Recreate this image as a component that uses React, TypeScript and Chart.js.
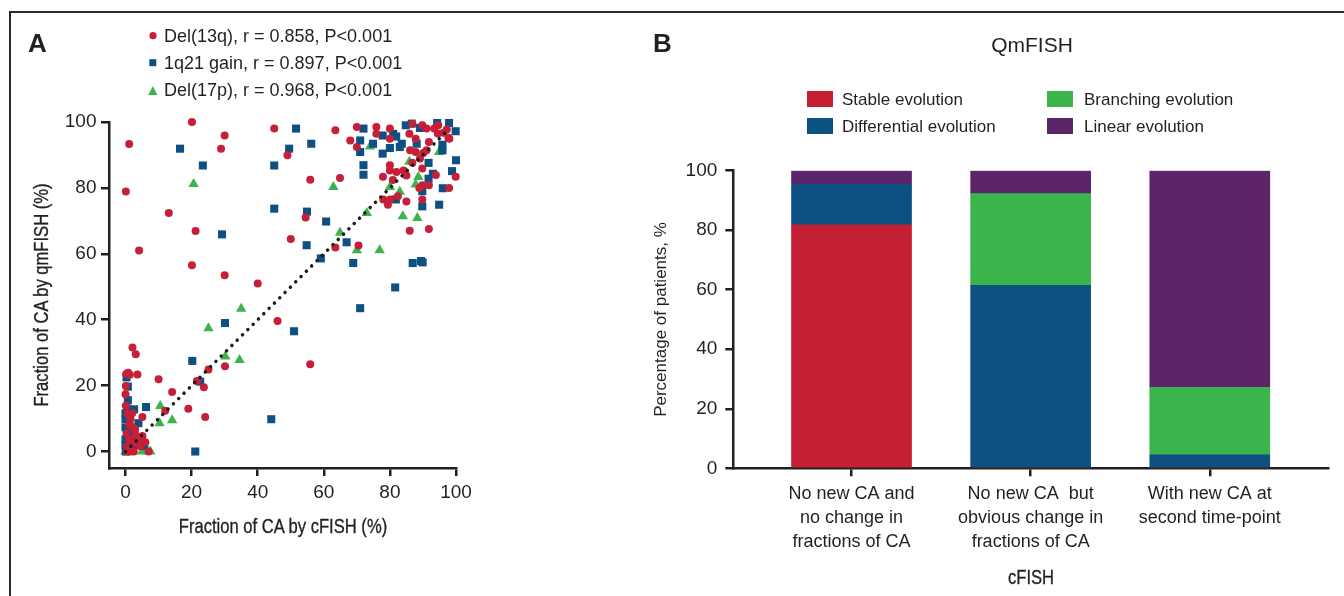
import React, { useEffect, useRef } from 'react';
import { Chart, registerables } from 'chart.js';

Chart.register(...registerables);

// ---------- Panel A: scatter data (cFISH % vs qmFISH %) ----------
const del13qX = [1.1, 20.1, 28.9, 30, 45, 49, 0.1, 13.1, 21.2, 50, 4.1, 20.1, 30, 40, 46, 2.1, 3.1, 30.1, 25.1, 21.6, 23.7, 10, 14.1, 19, 24.1, 12, 5.1, 3.6, 0.2, 0.8, 1.3, 0.1, 0, 0.1, 55.9, 54.5, 55.9, 64.9, 63.5, 70.5, 86, 91.8, 63.5,
  70, 75.9, 75.9, 80, 68, 70, 80, 86.8, 89.8, 91.1, 93.4, 94.6, 97.2, 96.2, 98, 85.9, 87.8, 91.8, 86.1, 87.8, 91.1, 90.1, 89.1, 86.8, 80, 80, 82, 84.1, 85, 89.8, 77.9, 93.9, 99.9, 80.9, 89.8, 88.9, 91.8, 97.9, 82.4, 78, 80.1, 79.4, 85, 89.8, 94.5, 97.7,
  0.6, 2, 1.1, 2, 2.9, 5.1, 3.9, 6, 4.5, 1.1, 0.6, 1.5, 2.5, 7, 0.3, 1.5, 3, 2.5, 0.5];
const del13qY = [93.3, 100, 91.9, 95.9, 98, 89.9, 78.9, 72.4, 66.9, 64.5, 61, 56.5, 53.5, 51, 39.6, 31.6, 29.5, 25.9, 24.9, 21.4, 19.5, 21.9, 18.1, 13, 10.5, 12.4, 10.5, 23.4, 23.5, 23.9, 23.3, 19.9, 17.4, 13.9, 26.5, 71, 82.5, 83, 61.9, 62.5, 67, 67.5, 97.5,
  98.5, 98.5, 96.4, 98, 94.4, 92.4, 94.9, 99.5, 99, 98, 98, 99, 97.7, 96.7, 94.9, 96.4, 94.9, 93.9, 91.4, 90.9, 91.4, 90.6, 88.9, 87.6, 86.9, 85.3, 84.8, 85.3, 83.8, 85.9, 83.4, 83.9, 83.4, 82.4, 80.8, 80, 80.8, 80, 77.5, 76.5, 76.5, 74.9, 75.9, 76.5, 96.5, 95.2,
  11.6, 11.6, 8.2, 7.5, 6.7, 4.7, 3.7, 2.8, 1.6, 3.7, 0, 0, 0, 0, 5.5, 9.8, 5, 2.5, 1.5];

const gainX = [16.5, 23.4, 45, 49.5, 51.6, 45, 29.2, 30.1, 51, 20.2, 22.6, 44.1, 21.1, 6.2, 2.6, 0.7, 0.7, 0, 0, 3.9, 0, 0, 0, 5.7, 0.1, 1.5, 0.5, 2, 1, 3, 0.3,
  56.2, 54.9, 60.7, 54.8, 66.9, 59.1, 68.9, 86.9, 89.4, 89.9, 81.6, 71,
  72, 77.8, 81, 71, 71, 74.9, 80, 77.8, 84.8, 89.1, 94.3, 97.9, 99.9, 83.6, 83, 88.1, 95.9, 95.9, 100, 91.7, 72, 72, 91.7, 93, 98.8, 89.8, 96, 81.8, 89.8, 94.9, 86.6, 81.9];
const gainY = [91.9, 86.8, 86.8, 91.9, 98, 73.7, 65.9, 39, 36.5, 27.5, 21.2, 9.8, 0, 13.5, 12.8, 15.6, 19.7, 11.6, 9.8, 8.6, 7.3, 3.7, 1.9, 1.7, 0, 5.5, 13, 3.5, 1, 2, 22.5,
  93.4, 72.8, 69.8, 62.6, 63.5, 58.6, 57.2, 57.2, 57.8, 57.4, 49.8, 43.5,
  98, 95.9, 96.4, 94.4, 90.9, 93.4, 92.1, 90.4, 99, 98.2, 99.7, 99.7, 97.2, 93.4, 92.4, 93.4, 91.4, 93.1, 88.4, 87.6, 86.9, 84, 82.8, 84.3, 85.1, 79, 79.9, 76.5, 74.4, 74.9, 99.5, 95.6];

const del17pX = [20.6, 35, 25.1, 30.2, 34.5, 10.5, 14.1, 10.3, 0, 2, 5, 7.5, 1.5, 3.5, 62.9, 64.9, 70, 76.9, 73, 83.9, 88.3, 74, 94.9, 85.9, 80, 88.6, 87.8, 83];
const del17pY = [81.2, 43.3, 37.4, 28.8, 27.8, 13.8, 9.5, 8.6, 0, 0, 0, 0, 1.5, 3, 80.3, 66.4, 61.1, 61.1, 72.4, 71.4, 70.9, 92.6, 90.9, 87.9, 80.3, 83.3, 81, 78.8];

const fitLineX = [0, 97.5];
const fitLineY = [0, 97.5];
const axisTicksA = [0, 20, 40, 60, 80, 100];

// ---------- Panel B: stacked bars ----------
const categoriesB = [
  ['No new CA and', 'no change in', 'fractions of CA'],
  ['No new CA  but', 'obvious change in', 'fractions of CA'],
  ['With new CA at', 'second time-point'],
];
const stableEvolution = [81.8, 0, 0];
const differentialEvolution = [13.6, 61.5, 4.5];
const branchingEvolution = [0, 30.8, 22.7];
const linearEvolution = [4.6, 7.7, 72.8];
const axisTicksB = [0, 20, 40, 60, 80, 100];

const FONT = "'Liberation Sans', Arial, Helvetica, sans-serif";
const INK = '#231f20';
const RED = '#c61f38';
const BLUE = '#0d5184';
const GREEN = '#3cb44b';
const BAR_RED = '#c41f33';
const BAR_BLUE = '#0d5183';
const BAR_GREEN = '#3bb44c';
const BAR_PURPLE = '#5d2569';

const pts = (xs: number[], ys: number[]) => xs.map((x, i) => ({ x, y: ys[i] }));

function T(props: { x: number; y: number; size: number; bold?: boolean; center?: boolean; children: React.ReactNode }) {
  const { x, y, size, bold, center, children } = props;
  return (
    <div
      style={{
        position: 'absolute',
        left: x,
        top: y - 0.488 * size,
        fontSize: size,
        lineHeight: `${size}px`,
        fontFamily: FONT,
        fontWeight: bold ? 700 : 400,
        whiteSpace: 'nowrap',
        color: INK,
        transform: center ? 'translateX(-50%)' : undefined,
      }}
    >
      {children}
    </div>
  );
}

// condensed axis title (centre-anchored), optionally rotated
function AxisTitle(props: { x: number; y: number; size: number; rotate?: boolean; children: React.ReactNode }) {
  const { x, y, size, rotate, children } = props;
  return (
    <div
      style={{
        position: 'absolute',
        left: x,
        top: y,
        fontSize: size,
        lineHeight: `${size}px`,
        fontFamily: FONT,
        whiteSpace: 'nowrap',
        color: INK,
        WebkitTextStroke: '0.35px ' + INK,
        transform: `translate(-50%, -50%)${rotate ? ' rotate(-90deg)' : ''} scaleX(0.79)`,
      }}
    >
      {children}
    </div>
  );
}

export default function App() {
  const aRef = useRef<HTMLCanvasElement | null>(null);
  const bRef = useRef<HTMLCanvasElement | null>(null);

  useEffect(() => {
    const axisCommon = {
      border: { display: true, color: INK, width: 2.5 },
      grid: { display: true, drawOnChartArea: false, drawTicks: true, tickLength: 8, color: INK, lineWidth: 2.5, tickColor: INK, tickWidth: 2.5, offset: false },
    };

    const chartA = new Chart(aRef.current as HTMLCanvasElement, {
      type: 'scatter',
      data: {
        datasets: [
          {
            label: 'fit',
            data: pts(fitLineX, fitLineY),
            showLine: true,
            borderColor: '#1b1b1b',
            borderWidth: 3.5,
            borderDash: [0.01, 7.5],
            borderCapStyle: 'round',
            pointRadius: 0,
            order: 0,
            clip: false,
          } as any,
          {
            label: 'Del(13q)',
            data: pts(del13qX, del13qY),
            pointStyle: 'circle',
            pointRadius: 4,
            pointBackgroundColor: RED,
            pointBorderColor: RED,
            pointBorderWidth: 0,
            order: 1,
            clip: false,
          },
          {
            label: '1q21 gain',
            data: pts(gainX, gainY),
            pointStyle: 'rect',
            pointRadius: 5.7,
            pointBackgroundColor: BLUE,
            pointBorderColor: BLUE,
            pointBorderWidth: 0,
            order: 2,
            clip: false,
          },
          {
            label: 'Del(17p)',
            data: pts(del17pX, del17pY),
            pointStyle: 'triangle',
            pointRadius: 6,
            pointBackgroundColor: GREEN,
            pointBorderColor: GREEN,
            pointBorderWidth: 0,
            order: 3,
            clip: false,
          },
        ],
      },
      options: {
        responsive: false,
        animation: false,
        devicePixelRatio: 1,
        plugins: { legend: { display: false }, tooltip: { enabled: false } },
        layout: { padding: { left: 0, top: 122, right: 24, bottom: 28 } },
        scales: {
          x: {
            type: 'linear',
            min: -5,
            max: 100,
            afterBuildTicks: (s: any) => { s.ticks = axisTicksA.map((v) => ({ value: v })); },
            afterFit: (s: any) => { s.height = 100; },
            ...axisCommon,
            ticks: { padding: 5.5, color: INK, font: { family: FONT, size: 19 }, maxRotation: 0, autoSkip: false },
          },
          y: {
            type: 'linear',
            min: -5,
            max: 100,
            afterBuildTicks: (s: any) => { s.ticks = axisTicksA.map((v) => ({ value: v })); },
            afterFit: (s: any) => { s.width = 109; },
            ...axisCommon,
            ticks: { padding: 4.5, color: INK, font: { family: FONT, size: 19 }, autoSkip: false },
          },
        },
      } as any,
    });

    const mk = (vals: number[]) => vals.map((v, i) => ({ x: i + 1, y: v }));
    const chartB = new Chart(bRef.current as HTMLCanvasElement, {
      type: 'bar',
      data: {
        datasets: [
          { label: 'Stable evolution', data: mk(stableEvolution), backgroundColor: BAR_RED, barThickness: 120, borderWidth: 0 },
          { label: 'Differential evolution', data: mk(differentialEvolution), backgroundColor: BAR_BLUE, barThickness: 120, borderWidth: 0 },
          { label: 'Branching evolution', data: mk(branchingEvolution), backgroundColor: BAR_GREEN, barThickness: 120, borderWidth: 0 },
          { label: 'Linear evolution', data: mk(linearEvolution), backgroundColor: BAR_PURPLE, barThickness: 120, borderWidth: 0 },
        ] as any,
      },
      options: {
        responsive: false,
        animation: false,
        devicePixelRatio: 1,
        plugins: { legend: { display: false }, tooltip: { enabled: false } },
        layout: { padding: { left: 0, top: 170.7, right: 16, bottom: 2.7 } },
        scales: {
          x: {
            type: 'linear',
            min: 0.34,
            max: 3.66,
            offset: false,
            stacked: true,
            afterBuildTicks: (s: any) => { s.ticks = categoriesB.map((_, i) => ({ value: i + 1 })); },
            afterFit: (s: any) => { s.height = 125; },
            ...axisCommon,
            ticks: {
              padding: 6,
              color: INK,
              font: { family: FONT, size: 18, lineHeight: 1.333 },
              maxRotation: 0,
              autoSkip: false,
              callback: (_v: any, i: number) => categoriesB[i],
            },
          },
          y: {
            type: 'linear',
            min: 0,
            max: 100,
            stacked: true,
            afterBuildTicks: (s: any) => { s.ticks = axisTicksB.map((v) => ({ value: v })); },
            afterFit: (s: any) => { s.width = 133.3; },
            ...axisCommon,
            ticks: { padding: 8, color: INK, font: { family: FONT, size: 19 }, autoSkip: false },
            title: { display: true, text: 'Percentage of patients, %', color: INK, font: { family: FONT, size: 17 }, padding: { top: 50.8, bottom: 0 } },
          },
        },
      } as any,
    });

    return () => {
      chartA.destroy();
      chartB.destroy();
    };
  }, []);

  return (
    <div style={{ position: 'absolute', left: 0, top: 0, width: 1344, height: 596, background: '#fff', overflow: 'hidden' }}>
      <div style={{ position: 'absolute', left: 9, top: 11, width: 1500, height: 700, borderTop: '2px solid #2a2a2a', borderLeft: '2px solid #2a2a2a' }} />
      <canvas ref={aRef} width={480} height={596} style={{ position: 'absolute', left: 0, top: 0, width: 480, height: 596 }} />
      <canvas ref={bRef} width={744} height={596} style={{ position: 'absolute', left: 600, top: 0, width: 744, height: 596 }} />
      <svg width={1344} height={596} style={{ position: 'absolute', left: 0, top: 0, pointerEvents: 'none' }}>
        <circle cx={153} cy={35.7} r={3.6} fill={RED} />
        <rect x={149.3} y={59.2} width={7} height={7} fill={BLUE} />
        <polygon points="152.8,86 157.3,95 148.3,95" fill={GREEN} />
        <rect x={807} y={91} width={26} height={16} fill={BAR_RED} />
        <rect x={807} y={118} width={26} height={16} fill={BAR_BLUE} />
        <rect x={1047} y={91} width={26} height={16} fill={BAR_GREEN} />
        <rect x={1047} y={118} width={26} height={16} fill={BAR_PURPLE} />
      </svg>
      <T x={28} y={42.5} size={26} bold>A</T>
      <T x={653} y={42.5} size={26} bold>B</T>
      <T x={164} y={35.5} size={18}>Del(13q), r = 0.858, P&lt;0.001</T>
      <T x={164} y={62.8} size={18}>1q21 gain, r = 0.897, P&lt;0.001</T>
      <T x={164} y={90} size={18}>Del(17p), r = 0.968, P&lt;0.001</T>
      <T x={1032} y={44} size={21} center>QmFISH</T>
      <T x={842} y={99} size={17}>Stable evolution</T>
      <T x={842} y={126} size={17}>Differential evolution</T>
      <T x={1084} y={99} size={17}>Branching evolution</T>
      <T x={1084} y={126} size={17}>Linear evolution</T>
      <AxisTitle x={282.5} y={525} size={21}>Fraction of CA by cFISH (%)</AxisTitle>
      <AxisTitle x={40} y={295} size={21} rotate>Fraction of CA by qmFISH (%)</AxisTitle>
      <AxisTitle x={1031} y={576} size={21}>cFISH</AxisTitle>
    </div>
  );
}
